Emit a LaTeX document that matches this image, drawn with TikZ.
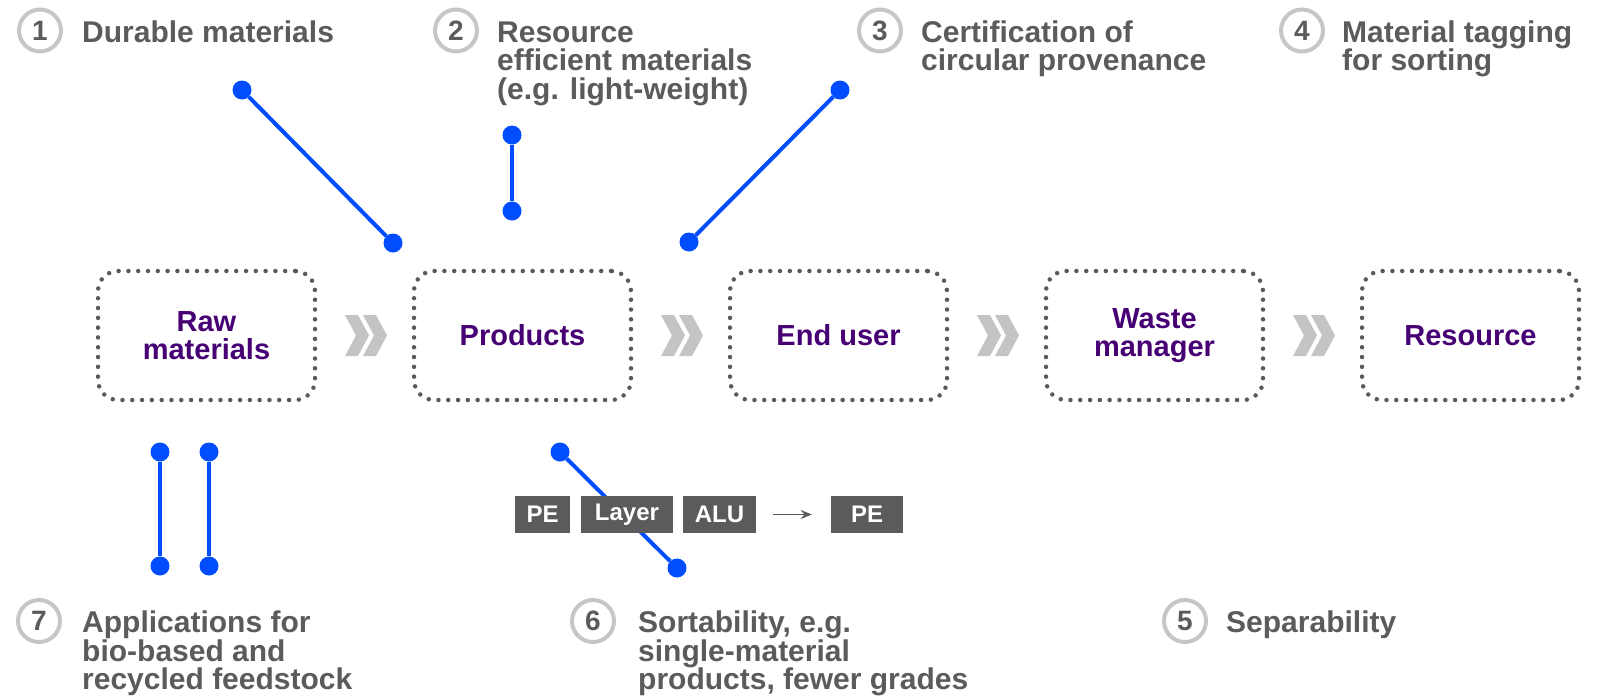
\documentclass[tikz,border=0pt]{standalone}
\usepackage{fontspec}
\setmainfont{Liberation Sans}
\usetikzlibrary{calc,arrows.meta}
\definecolor{labelgray}{HTML}{5B5B5B}
\definecolor{ringgray}{HTML}{C6C6C6}
\definecolor{chevgray}{HTML}{C4C4C4}
\definecolor{dotgray}{HTML}{5A5A5A}
\definecolor{stagepurple}{HTML}{460073}
\definecolor{pinblue}{HTML}{004DFF}
\begin{document}
\begin{tikzpicture}[x=1pt,y=-1pt]

\tikzstyle{stagebox} = [draw=dotgray, line width=4.5, dash pattern=on 0pt off 9.8pt, line cap=round, rounded corners=20, minimum width=217, minimum height=129, align=center, text=stagepurple, font={\fontsize{29}{28}\selectfont\bfseries}]
\tikzstyle{numring} = [circle, draw=ringgray, line width=4, minimum size=42, inner sep=0, text=labelgray, font={\fontsize{28}{28}\selectfont\bfseries}]
\tikzstyle{pointlabel} = [anchor=base west, inner sep=0, align=left, text=labelgray, font={\fontsize{30}{28.5}\selectfont\bfseries}]
\tikzstyle{pindot} = [circle, fill=pinblue, minimum size=19, inner sep=0]
\tikzstyle{pinline} = [draw=pinblue, line width=4]
\tikzstyle{layerbox} = [fill=labelgray, text=white, minimum height=37, inner sep=0, font={\fontsize{24}{24}\selectfont\bfseries}]
\tikzstyle{gray_arrow_edge} = [-{Stealth[length=11,width=9]}, draw=labelgray, line width=1.7, shorten <=17, shorten >=19]

\useasboundingbox (0,0) rectangle (1602,696);

% value chain
\node [stagebox] (b1) at (206.5,335.5) {Raw\\materials};
\node [stagebox] (b2) at (522.5,335.5) {Products};
\node [stagebox] (b3) at (838.5,335.5) {End user};
\node [stagebox] (b4) at (1154.5,335.5) {Waste\\manager};
\node [stagebox] (b5) at (1470.5,335.5) {Resource};

\foreach \a/\b in {b1/b2,b2/b3,b3/b4,b4/b5}
  \foreach \s in {0,18}
    \fill [chevgray] ($(\a.east)!0.5!(\b.west)$) ++({\s-19.5},-20.5) -- ++(13,0) -- ++(11,20.5) -- ++(-11,20.5) -- ++(-13,0) -- ++(11,-20.5) -- cycle;

% numbered points (label at baseline of last line)
\node [numring] (n1) at (40,30.5) {1};
\node [pointlabel] (t1) at (82,42) {Durable materials};
\node [numring] (n2) at (456,30.5) {2};
\node [pointlabel] (t2) at (497,99) {Resource\\efficient materials\\(e.g. light-weight)};
\node [numring] (n3) at (880,30.5) {3};
\node [pointlabel] (t3) at (921,70.5) {Certification of\\circular provenance};
\node [numring] (n4) at (1302,30.5) {4};
\node [pointlabel] (t4) at (1342,70.5) {Material tagging\\for sorting};
\node [numring] (n5) at (1185,621) {5};
\node [pointlabel] (t5) at (1226,632.5) {Separability};
\node [numring] (n6) at (593,621) {6};
\node [pointlabel] (t6) at (638,689.5) {Sortability, e.g.\\single-material\\products, fewer grades};
\node [numring] (n7) at (39,621) {7};
\node [pointlabel] (t7) at (82,689.5) {Applications for\\bio-based and\\recycled feedstock};

% pins
\node [pindot] (p1a) at (242,90) {};
\node [pindot] (p1b) at (393,243) {};
\node [pindot] (p2a) at (512,135) {};
\node [pindot] (p2b) at (512,211) {};
\node [pindot] (p3a) at (840,90) {};
\node [pindot] (p3b) at (689,242) {};
\node [pindot] (p7a) at (160,452) {};
\node [pindot] (p7b) at (160,566) {};
\node [pindot] (p7c) at (209,452) {};
\node [pindot] (p7d) at (209,566) {};
\node [pindot] (p6a) at (560,452) {};
\node [pindot] (p6b) at (677,568) {};
\draw [pinline] (p1a) -- (p1b);
\draw [pinline] (p2a) -- (p2b);
\draw [pinline] (p3a) -- (p3b);
\draw [pinline] (p7a) -- (p7b);
\draw [pinline] (p7c) -- (p7d);
\draw [pinline] (p6a) -- (p6b);

% layers
\node [layerbox, minimum width=55] (l1) at (542.5,514.5) {PE};
\node [layerbox, minimum width=92] (l2) at (627,514.5) {Layer};
\node [layerbox, minimum width=73] (l3) at (719.5,514.5) {ALU};
\node [layerbox, minimum width=72] (l4) at (867,514.5) {PE};
\draw [gray_arrow_edge] (l3) -- (l4);
\end{tikzpicture}
\end{document}
